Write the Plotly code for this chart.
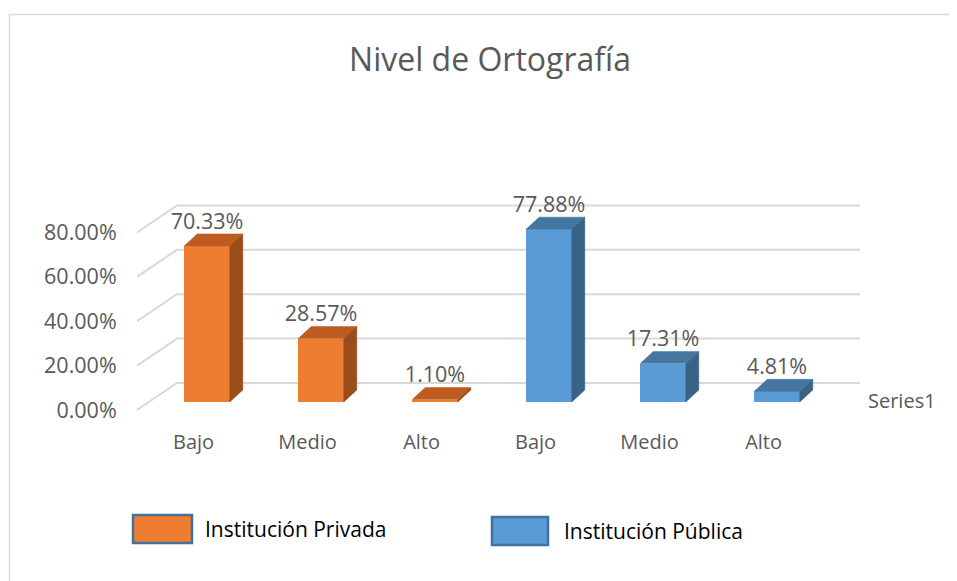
import plotly.graph_objects as go

# ---- data ----
categories = ["Bajo", "Medio", "Alto"]
series_names = ["Institución Privada", "Institución Pública"]
privada = [70.33, 28.57, 1.10]
publica = [77.88, 17.31, 4.81]
y_ticks = [0, 20, 40, 60, 80]
depth_label = "Series1"
title_text = "Nivel de Ortografía"

# ---- geometry / style ----
W, H = 957, 581
PAGE = 8                                   # default page body margin
L, R, T, B = 137, 860, 190, 412            # plot area in reference pixels
xr = [-0.614, 5.728]
yr = [-4.5, 95.5]
bar_w = 0.40
bar_dx, bar_dy = 0.114, 5.4                # bar depth in data units
front_off = -3.6                           # front plane offset (data units)
back_dx, back_dy = -0.263, 8.56            # back wall start x / offset
label_shift = -0.118

col_front = ["#ED7D31", "#5B9BD5"]
col_top = ["#BE5B1E", "#44769F"]
col_side = ["#9A4C1A", "#3A6186"]
txt = "#595959"
grid = "#D9D9D9"
FONT = "Open Sans"
NUM = 21.5
CAT = 20


def px2x(px):
    return (px - L) / (R - L)


def py2y(py):
    return (B - py) / (B - T)


fig = go.Figure()

values = privada + publica
positions = list(range(len(values)))
groups = [0] * len(privada) + [1] * len(publica)

# front faces
for g in (0, 1):
    xs = [p for p, gg in zip(positions, groups) if gg == g]
    ys = [v for v, gg in zip(values, groups) if gg == g]
    fig.add_trace(go.Bar(x=xs, y=ys, width=bar_w, marker=dict(color=col_front[g], line=dict(width=0)),
                         showlegend=False, hoverinfo="skip"))

# top and side faces
for p, v, g in zip(positions, values, groups):
    x0, x1 = p - bar_w / 2, p + bar_w / 2
    fig.add_trace(go.Scatter(
        x=[x0, x1, x1 + bar_dx, x0 + bar_dx, x0],
        y=[v, v, v + bar_dy, v + bar_dy, v],
        fill="toself", fillcolor=col_top[g], mode="lines", line=dict(width=0.5, color=col_top[g]),
        showlegend=False, hoverinfo="skip"))
    fig.add_trace(go.Scatter(
        x=[x1, x1 + bar_dx, x1 + bar_dx, x1, x1],
        y=[0, bar_dy, v + bar_dy, v, 0],
        fill="toself", fillcolor=col_side[g], mode="lines", line=dict(width=0.5, color=col_side[g]),
        showlegend=False, hoverinfo="skip"))

# data labels
fig.add_trace(go.Scatter(
    x=positions, y=[v + bar_dy for v in values], mode="text",
    text=[f"{v:.2f}%" for v in values], textposition="top center",
    textfont=dict(family=FONT, size=NUM, color=txt), showlegend=False, hoverinfo="skip"))

# gridlines (3D: diagonal on left wall + back wall)
shapes = []
for t in y_ticks:
    shapes.append(dict(type="path", xref="x", yref="y", layer="below",
                       path=f"M {xr[0]},{t + front_off} L {back_dx},{t + back_dy} L {xr[1]},{t + back_dy}",
                       line=dict(color=grid, width=2)))

# chart border
shapes.append(dict(type="rect", xref="paper", yref="paper",
                   x0=px2x(9.5), x1=px2x(W + 15), y0=py2y(H + 15), y1=py2y(14.5),
                   line=dict(color=grid, width=1.5), layer="below"))

# custom legend
leg = [(133, 192, 515, 543, 203), (492, 548, 517, 545, 562)]
annotations = []
for g, (a, b, c, d, tx) in enumerate(leg):
    shapes.append(dict(type="rect", xref="paper", yref="paper",
                       x0=px2x(a), x1=px2x(b), y0=py2y(d), y1=py2y(c),
                       fillcolor=col_front[g], line=dict(color="#41719C", width=2.5)))
    annotations.append(dict(xref="paper", yref="paper", x=px2x(tx), y=py2y((c + d) / 2),
                            text=series_names[g], showarrow=False, xanchor="left", yanchor="middle",
                            font=dict(family=FONT, size=21, color="#000000")))

annotations.append(dict(xref="paper", yref="paper", x=px2x(902), y=py2y(400), text=depth_label,
                        showarrow=False, xanchor="center", yanchor="middle",
                        font=dict(family=FONT, size=CAT, color=txt)))

fig.update_layout(
    width=W, height=H,
    margin=dict(l=L - PAGE, r=W - R + PAGE, t=T - PAGE, b=H - B + PAGE, pad=0),
    paper_bgcolor="white", plot_bgcolor="white",
    title=dict(text=title_text, x=(490 - PAGE) / W, y=1 - (60 - PAGE) / H, xref="container", yref="container",
               xanchor="center", yanchor="middle", font=dict(family=FONT, size=32, color=txt)),
    xaxis=dict(range=xr, tickmode="array", tickvals=[p + label_shift for p in positions],
               ticktext=categories * 2, showgrid=False, zeroline=False, showline=False,
               ticks="outside", ticklen=12, tickcolor="rgba(0,0,0,0)",
               tickfont=dict(family=FONT, size=CAT, color=txt)),
    yaxis=dict(range=yr, tickmode="array", tickvals=[t + front_off for t in y_ticks],
               ticktext=[f"{t:.2f}%" for t in y_ticks], showgrid=False, zeroline=False, showline=False,
               ticks="outside", ticklen=15, tickcolor="rgba(0,0,0,0)",
               tickfont=dict(family=FONT, size=NUM, color=txt)),
    shapes=shapes, annotations=annotations, showlegend=False, bargap=0, hovermode=False,
)

fig.write_html("out.html")
